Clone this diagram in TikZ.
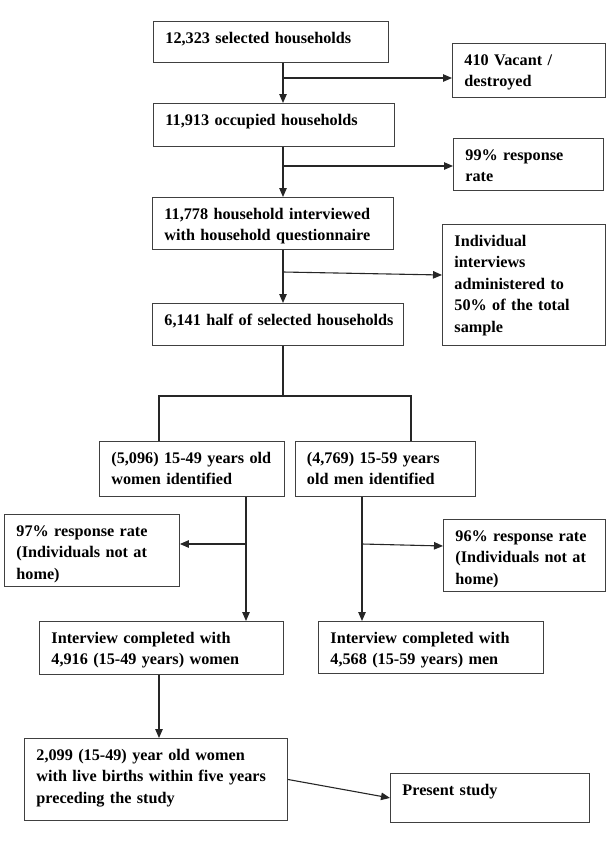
\documentclass[tikz,border=0pt]{standalone}
\usepackage{fontspec}
\setmainfont{Liberation Serif}
\usepackage{tikz}
\usetikzlibrary{arrows.meta, calc, positioning}
\definecolor{boxline}{rgb}{0.25, 0.25, 0.25}

\begin{document}
\begin{tikzpicture}[x=1pt, y=-1pt, >={Triangle[length=9pt, width=7.5pt]}]
        \tikzstyle{box}=[draw=boxline, line width=0.9pt, anchor=north west, align=left,
            inner xsep=12pt, inner ysep=0pt, text height=22pt,
            font=\bfseries\fontsize{16.2}{21.5}\selectfont]
        \tikzstyle{link}=[line width=1.1pt, black!85]
        \useasboundingbox (0,0) rectangle (612,852);

        % Main column
        \node (sel)[box, text width=211pt, text depth=19pt] at (153,21) {12,323 selected households};
        \node (occ)[box, text width=217pt, text depth=21pt] at (153,103) {11,913 occupied households};
        \node (intv)[box, text width=217pt, text depth=30pt] at (152,197) {11,778 household interviewed\\with household questionnaire};
        \node (half)[box, text width=227pt, text depth=20pt] at (152,303) {\mbox{6,141 half of selected households}};

        % Side boxes
        \node (vacant)[box, text width=129pt, text depth=32pt] at (452,43) {410 Vacant /\\destroyed};
        \node (resp99)[box, text width=126pt, text depth=30pt] at (453,138) {99\% response\\rate};
        \node (indiv)[box, text width=139pt, text depth=99pt] at (442,224) {Individual\\interviews\\administered to\\50\% of the total\\sample};

        % Women and men
        \node (women)[box, text width=161pt, text depth=33pt] at (99,441) {(5,096) 15-49 years old\\women identified};
        \node (men)[box, text width=156pt, text depth=33pt] at (294.5,441) {(4,769) 15-59 years\\old men identified};
        \node (resp97)[box, text width=151pt, text depth=50pt] at (4,514) {97\% response rate\\(Individuals not at\\home)};
        \node (resp96)[box, text width=138pt, text depth=50pt] at (443,519) {96\% response rate\\(Individuals not at\\home)};
        \node (donew)[box, text width=220pt, text depth=31pt] at (39,621) {Interview completed with\\4,916 (15-49 years) women};
        \node (donem)[box, text width=201pt, text depth=30pt] at (318,621) {Interview completed with\\4,568 (15-59 years) men};

        % Last row
        \node (births)[box, text width=239pt, text depth=60pt] at (24,738) {2,099 (15-49) year old women\\with live births within five years\\preceding the study};
        \node (present)[box, text width=175pt, text depth=27pt] at (390,773) {Present study};

        % Branch points
        \coordinate (spine) at (283,0);
        \coordinate (k1) at (283,78);
        \coordinate (k2) at (283,166);
        \coordinate (k3) at (283,272);
        \coordinate (lsplit) at (159,396);
        \coordinate (rsplit) at (411,396);
        \coordinate (wcol) at (246,544);
        \coordinate (mcol) at (362,544);
        \coordinate (bcol) at (159,700);

        % Arrows down the main column
        \draw[link, ->] (sel.south -| spine) -- (occ.north -| spine);
        \draw[link, ->] (occ.south -| spine) -- (intv.north -| spine);
        \draw[link, ->] (intv.south -| spine) -- (half.north -| spine);
        \draw[link, ->] (k1) -- (k1 -| vacant.west);
        \draw[link, ->] (k2) -- (k2 -| resp99.west);
        \draw[link, ->] (k3) -- ($(k3 -| indiv.west)+(0,3)$);

        % Split into women and men
        \draw[link] (half.south -| spine) -- (spine |- lsplit);
        \draw[link] (lsplit |- women.north) -- (lsplit) -- (rsplit) -- (rsplit |- men.north);

        \draw[link, ->] (women.south -| wcol) -- (donew.north -| wcol);
        \draw[link, ->] (wcol) -- (wcol -| resp97.east);
        \draw[link, ->] (men.south -| mcol) -- (donem.north -| mcol);
        \draw[link, ->] (mcol) -- ($(mcol -| resp96.west)+(0,2)$);

        % Final selection
        \draw[link, ->] (donew.south -| bcol) -- (births.north -| bcol);
        \draw[link, ->] (births.east) -- (present.west);
    \end{tikzpicture}
\end{document}
